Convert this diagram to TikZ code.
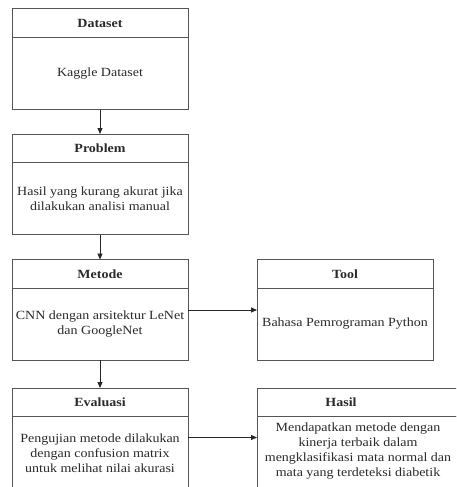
\documentclass[tikz,border=0pt]{standalone}
\usepackage{fontspec}
\setmainfont{Liberation Serif}[FakeStretch=1.12]
\usetikzlibrary{arrows.meta}
\definecolor{edge}{HTML}{555555}
\definecolor{ink}{HTML}{2A2A2A}
\tikzset{
  base/.style={draw=edge, line width=1pt, inner sep=0pt, outer sep=0pt, text=ink,
    font=\fontsize{12.5}{15}\selectfont, align=center},
  hdr/.style={base, minimum width=176pt, minimum height=28.5pt, anchor=north west},
  bodybox/.style={base, minimum width=176pt, minimum height=72pt, anchor=north},
  txt/.style={text=ink, font=\fontsize{12.5}{15}\selectfont, align=center, inner sep=0pt},
  link/.style={draw=black!85, line width=0.8pt, -{Triangle[length=6pt,width=5pt]}}
}
\begin{document}
\begin{tikzpicture}[x=1pt,y=-1pt]
\path[use as bounding box, fill=white] (0,0) rectangle (456,487);
\clip (0,0) rectangle (456,487);
% left column
\node[hdr] (datasetH) at (12,9) {\bfseries Dataset};
\node[bodybox] (datasetB) at (datasetH.south) {Kaggle Dataset};
\node[hdr] (problemH) at (12,134) {\bfseries Problem};
\node[bodybox] (problemB) at (problemH.south) {Hasil yang kurang akurat jika\\dilakukan analisi manual};
\node[hdr] (metodeH) at (12,259.5) {\bfseries Metode};
\node[bodybox] (metodeB) at (metodeH.south) {CNN dengan arsitektur LeNet\\dan GoogleNet};
\node[hdr] (evalH) at (12,388) {\bfseries Evaluasi};
\node[bodybox, minimum height=74pt] (evalB) at (evalH.south) {Pengujian metode dilakukan\\dengan confusion matrix\\untuk melihat nilai akurasi};
% right column
\node[hdr] (toolH) at (257,259.5) {\bfseries Tool};
\node[bodybox] (toolB) at (toolH.south) {Bahasa Pemrograman Python};
\node[hdr, minimum width=230pt] (hasilH) at (257,388) {};
\node[bodybox, minimum width=230pt, minimum height=74pt] (hasilB) at (hasilH.south) {};
\node[txt] (hasilT) at (341,402.5) {\bfseries Hasil};
\node[txt] (hasilX) at (358,451) {Mendapatkan metode dengan\\kinerja terbaik dalam\\mengklasifikasi mata normal dan\\mata yang terdeteksi diabetik};
% connectors
\draw[link] (datasetB.south) -- (problemH.north);
\draw[link] (problemB.south) -- (metodeH.north);
\draw[link] (metodeB.south) -- (evalH.north);
\draw[link] ([yshift=-22pt]metodeB.north east) -- ([yshift=-22pt]toolB.north west);
\draw[link] ([yshift=-21pt]evalB.north east) -- ([yshift=-21pt]hasilB.north west);
\end{tikzpicture}
\end{document}
